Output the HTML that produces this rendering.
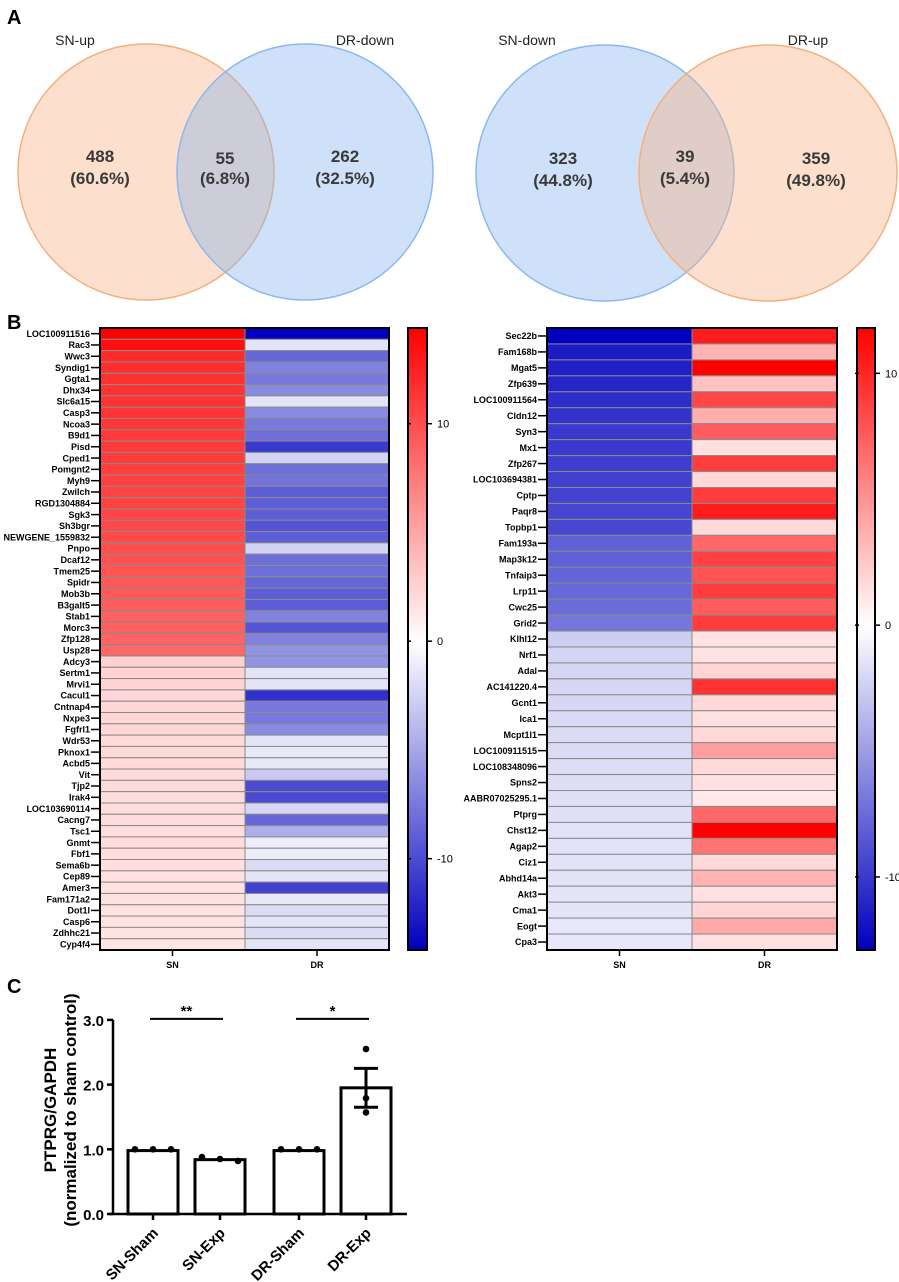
<!DOCTYPE html>
<html><head><meta charset="utf-8"><style>
html,body{margin:0;padding:0;background:#fff}
svg{display:block;font-family:"Liberation Sans",Arial,sans-serif}
</style></head><body>
<svg id="fig" width="899" height="1282" viewBox="0 0 899 1282" xmlns="http://www.w3.org/2000/svg">
<defs>
<linearGradient id="cbL" x1="0" y1="0" x2="0" y2="1">
<stop offset="0" stop-color="#ff0000"/><stop offset="0.5048" stop-color="#ffffff"/><stop offset="1" stop-color="#0000be"/>
</linearGradient>
<linearGradient id="cbR" x1="0" y1="0" x2="0" y2="1">
<stop offset="0" stop-color="#ff0000"/><stop offset="0.4791" stop-color="#ffffff"/><stop offset="1" stop-color="#0000be"/>
</linearGradient>
</defs>
<text x="7" y="24" font-size="20" font-weight="bold">A</text>
<g>
<ellipse cx="146" cy="172" rx="128" ry="128" fill="rgba(248,178,134,0.42)" stroke="#f3b07e" stroke-width="1.5"/>
<ellipse cx="305" cy="172" rx="128" ry="128" fill="rgba(130,175,240,0.38)" stroke="#8ab8ef" stroke-width="1.5"/>
<text x="75" y="45" font-size="14" text-anchor="middle" fill="#222">SN-up</text>
<text x="365" y="45" font-size="14" text-anchor="middle" fill="#222">DR-down</text>
<g font-size="17" font-weight="bold" fill="#3a3a3a" text-anchor="middle">
<text x="100" y="162">488</text><text x="100" y="184">(60.6%)</text>
<text x="225" y="164">55</text><text x="225" y="184">(6.8%)</text>
<text x="345" y="162">262</text><text x="345" y="184">(32.5%)</text>
</g></g>
<g>
<ellipse cx="605" cy="173" rx="129" ry="128" fill="rgba(130,175,240,0.38)" stroke="#8ab8ef" stroke-width="1.5"/>
<ellipse cx="768" cy="173" rx="129" ry="128" fill="rgba(248,178,134,0.42)" stroke="#f3b07e" stroke-width="1.5"/>
<text x="527" y="45" font-size="14" text-anchor="middle" fill="#222">SN-down</text>
<text x="808" y="45" font-size="14" text-anchor="middle" fill="#222">DR-up</text>
<g font-size="17" font-weight="bold" fill="#3a3a3a" text-anchor="middle">
<text x="563" y="164">323</text><text x="563" y="186">(44.8%)</text>
<text x="685" y="162">39</text><text x="685" y="184">(5.4%)</text>
<text x="816" y="164">359</text><text x="816" y="186">(49.8%)</text>
</g></g>
<text x="7" y="329" font-size="20" font-weight="bold">B</text>
<g id="hmL"></g>
<g id="hmR"></g>
<rect x="408" y="328" width="19" height="622" fill="url(#cbL)" stroke="#000" stroke-width="2"/>
<rect x="857" y="328" width="18" height="622" fill="url(#cbR)" stroke="#000" stroke-width="2"/>
<g id="cbt" font-size="11"></g>
<text x="7" y="993" font-size="20" font-weight="bold">C</text>
<g id="bar"></g>
</svg>
<script>
const NS='http://www.w3.org/2000/svg';
function mk(tag,attrs,parent,txt){const e=document.createElementNS(NS,tag);for(const k in attrs)e.setAttribute(k,attrs[k]);if(txt!==undefined)e.textContent=txt;parent.appendChild(e);return e;}
const genesL=["LOC100911516","Rac3","Wwc3","Syndig1","Ggta1","Dhx34","Slc6a15","Casp3","Ncoa3","B9d1","Pisd","Cped1","Pomgnt2","Myh9","Zwilch","RGD1304884","Sgk3","Sh3bgr","NEWGENE_1559832","Pnpo","Dcaf12","Tmem25","Spidr","Mob3b","B3galt5","Stab1","Morc3","Zfp128","Usp28","Adcy3","Sertm1","Mrvi1","Cacul1","Cntnap4","Nxpe3","Fgfrl1","Wdr53","Pknox1","Acbd5","Vit","Tjp2","Irak4","LOC103690114","Cacng7","Tsc1","Gnmt","Fbf1","Sema6b","Cep89","Amer3","Fam171a2","Dot1l","Casp6","Zdhhc21","Cyp4f4"];
const snL=[14.4,13.5,12,11.8,11.7,11.6,11.5,11.4,11.3,11.2,11.1,11,10.9,10.8,10.7,10.6,10.5,10.3,10.2,10,9.8,9.6,9.5,9.4,9.2,9,8.9,8.8,8.6,2.6,2.5,2.5,2.4,2.4,2.3,2.3,2.2,2.2,2.2,2.1,2.1,2,2,2,1.9,1.9,1.9,1.8,1.8,1.7,1.7,1.6,1.6,1.5,1.5];
const drL=[-14.2,-1.5,-8.5,-7,-7.5,-6.5,-1.5,-6.5,-7.5,-8,-11,-2.5,-8,-7.8,-9,-9,-9,-9.5,-9,-2.5,-8,-8,-8.5,-9,-9,-7,-9.5,-7,-6,-6,-1.5,-1.5,-11.5,-7.5,-7.5,-6.5,-1.5,-1.3,-1.3,-3,-10,-10,-2.2,-8.5,-4.5,-1,-1,-2,-1.5,-10.5,-1.3,-2,-1.5,-2,-1.5];
const genesR=["Sec22b","Fam168b","Mgat5","Zfp639","LOC100911564","Cldn12","Syn3","Mx1","Zfp267","LOC103694381","Cptp","Paqr8","Topbp1","Fam193a","Map3k12","Tnfaip3","Lrp11","Cwc25","Grid2","Klhl12","Nrf1","Adal","AC141220.4","Gcnt1","Ica1","Mcpt1l1","LOC100911515","LOC108348096","Spns2","AABR07025295.1","Ptprg","Chst12","Agap2","Ciz1","Abhd14a","Akt3","Cma1","Eogt","Cpa3"];
const snR=[-12.9,-11.5,-11.3,-11,-10.6,-10.3,-10,-10,-9.8,-9.6,-9.5,-9.4,-9.3,-8,-8,-7.8,-7.7,-7.5,-7,-2.5,-2.2,-2.1,-2,-2,-1.9,-1.8,-1.8,-1.7,-1.7,-1.6,-1.6,-1.5,-1.5,-1.4,-1.4,-1.3,-1.3,-1.2,-1.2];
const drR=[10.5,3.5,11.8,2.8,8.5,3.8,7.5,1.5,9,1.8,9,10.5,1.8,7,8.8,8,9,7.5,9,1.3,1.3,2,9.5,1.8,1.5,1.8,4.5,1.8,1.5,1.0,7,11.8,6.5,1.8,3.5,1.5,2,4,1.5];
const colTicksL=[10,0,-10], colTicksR=[10,0,-10];
function col(v,vmax,vmin){if(v>=0){const t=Math.min(1,v/vmax);const g=Math.round(255*(1-t));return `rgb(255,${g},${g})`;}const t=Math.min(1,v/vmin);const c=Math.round(255*(1-t));return `rgb(${c},${c},${Math.round(255-65*t)})`;}
function heat(g,genes,sn,dr,x0,xm,x1,vmax,vmin,labX){
 const top=328,bot=950,h=(bot-top)/genes.length;
 genes.forEach((name,i)=>{const y=top+i*h;
  const a=mk('rect',{x:x0,y:y,width:xm-x0,height:h,fill:col(sn[i],vmax,vmin),stroke:'#8a8a8a','stroke-width':1},g);
  
  
  const b=mk('rect',{x:xm,y:y,width:x1-xm,height:h,fill:col(dr[i],vmax,vmin),stroke:'#8a8a8a','stroke-width':1},g);
  
  
  const t=mk('text',{x:labX,y:y+h/2+3.2,'font-size':9,'font-weight':'bold','text-anchor':'end'},g,name);
  
  
  mk('line',{x1:labX+1,x2:x0,y1:y+h/2,y2:y+h/2,stroke:'#000','stroke-width':1.5},g);
 });
 mk('rect',{x:x0,y:top,width:x1-x0,height:bot-top,fill:'none',stroke:'#000','stroke-width':2},g);
 mk('line',{x1:(x0+xm)/2,x2:(x0+xm)/2,y1:bot,y2:bot+6,stroke:'#000','stroke-width':1.5},g);
 mk('line',{x1:(xm+x1)/2,x2:(xm+x1)/2,y1:bot,y2:bot+6,stroke:'#000','stroke-width':1.5},g);
 const s=mk('text',{x:(x0+xm)/2,y:968,'font-size':9,'font-weight':'bold','text-anchor':'middle'},g,'SN');
 
 
 const d=mk('text',{x:(xm+x1)/2,y:968,'font-size':9,'font-weight':'bold','text-anchor':'middle'},g,'DR');
 
 
}
heat(document.getElementById('hmL'),genesL,snL,drL,100,245,389,14.4,-14.2,90);
heat(document.getElementById('hmR'),genesR,snR,drR,547,692,837,11.8,-12.9,537);
const cbt=document.getElementById('cbt');
function cbTicks(ticks,x,vmax,vmin){const top=328,bot=950;ticks.forEach(v=>{const y=top+(vmax-v)/(vmax-vmin)*(bot-top);
 mk('line',{x1:x-2,x2:x+4,y1:y,y2:y,stroke:'#000','stroke-width':1.5},cbt);
 mk('line',{x1:x-21,x2:x-17,y1:y,y2:y,stroke:'#000','stroke-width':1.5},cbt);
 const t=mk('text',{x:x+9,y:y+4,'font-size':11},cbt,String(v));
 
 });}
cbTicks(colTicksL,428,14.4,-14.2);
cbTicks(colTicksR,876,11.8,-12.9);
// Bar chart
const groups=["SN-Sham","SN-Exp","DR-Sham","DR-Exp"];
const means=[0.98,0.84,0.98,1.95];
const sems=[0,0.02,0,0.30];
const points=[[1,1,1],[0.88,0.85,0.82],[1,1,1],[2.55,1.79,1.57]];
const yTicks=[0,1,2,3];
const yTickLabels=["0.0","1.0","2.0","3.0"];
const sigs=[["**",0,1],["*",2,3]];
const bar=document.getElementById('bar');
const y0=1214,ppu=64.7;const Y=v=>y0-v*ppu;
const centers=[153,220,299,366];const bw=50;
mk('line',{x1:113,x2:113,y1:Y(3),y2:y0,stroke:'#000','stroke-width':2.5},bar);
mk('line',{x1:109,x2:407,y1:y0,y2:y0,stroke:'#000','stroke-width':2.5},bar);
yTicks.forEach((v,i)=>{mk('line',{x1:107,x2:113,y1:Y(v),y2:Y(v),stroke:'#000','stroke-width':2.5},bar);
 const t=mk('text',{x:104,y:Y(v)+6,'font-size':15,'font-weight':'bold','text-anchor':'end'},bar,yTickLabels[i]);
 
 });
groups.forEach((gname,i)=>{const cx=centers[i];
 const r=mk('rect',{x:cx-bw/2,y:Y(means[i]),width:bw,height:y0-Y(means[i]),fill:'#fff',stroke:'#000','stroke-width':3},bar);
 
 
 if(sems[i]>0.05){mk('line',{x1:cx,x2:cx,y1:Y(means[i]+sems[i]),y2:Y(means[i]-sems[i]),stroke:'#000','stroke-width':3},bar);
  [means[i]+sems[i],means[i]-sems[i]].forEach(v=>mk('line',{x1:cx-12,x2:cx+12,y1:Y(v),y2:Y(v),stroke:'#000','stroke-width':3},bar));}
 points[i].forEach((p,j)=>{const c=mk('circle',{cx:(sems[i]>0.05?cx:cx+(j-1)*18),cy:Y(p),r:3.3,fill:'#000'},bar);
  
  });
 mk('line',{x1:cx,x2:cx,y1:y0,y2:y0+6,stroke:'#000','stroke-width':2.5},bar);
 const t=mk('text',{x:cx+6,y:y0+20,'font-size':15,'font-weight':'bold','text-anchor':'end',transform:`rotate(-45 ${cx+6} ${y0+20})`},bar,gname);
 
 });
sigs.forEach(s=>{const a=centers[s[1]]-3,b=centers[s[2]]+3;const y=Y(3)-1;
 const l=mk('line',{x1:a,x2:b,y1:y,y2:y,stroke:'#000','stroke-width':2},bar);
 
 
 mk('text',{x:(a+b)/2,y:y-3,'font-size':15,'font-weight':'bold','text-anchor':'middle'},bar,s[0]);});
const yl=mk('text',{x:0,y:0,'font-size':17,'font-weight':'bold','text-anchor':'middle',transform:'translate(56 1110) rotate(-90)'},bar,'PTPRG/GAPDH');


const yl2=mk('text',{x:0,y:0,'font-size':17,'font-weight':'bold','text-anchor':'middle',transform:'translate(76 1110) rotate(-90)'},bar,'(normalized to sham control)');


</script>
</body></html>
